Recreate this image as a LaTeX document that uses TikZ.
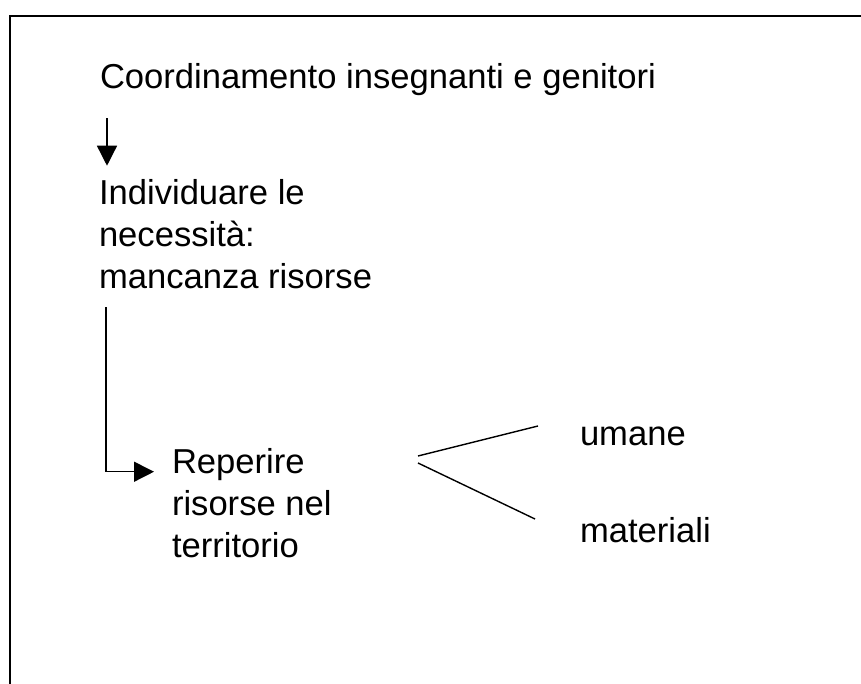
\documentclass[tikz,border=0pt]{standalone}
\usepackage{fontspec}
\setmainfont{Liberation Sans}
\usetikzlibrary{arrows.meta}
\begin{document}
\begin{tikzpicture}[x=1pt,y=-1pt,
  txt/.style={inner sep=0pt, outer sep=0pt, anchor=base west, align=left,
    font=\fontsize{34.6pt}{41.6pt}\selectfont},
  conn/.style={line width=1.4pt},
  arr/.style={conn, -{Triangle[length=20pt,width=20pt]}},
  frame/.style={line width=2pt}]
\useasboundingbox (0,0) rectangle (861,684);
\draw[frame] (10,700) -- (10,16) -- (880,16);
\node[txt] (coord) at (100,89) {Coordinamento insegnanti e genitori};
\node[txt] (indiv) at (99,288) {Individuare le\\necessità:\\mancanza risorse};
\node[txt] (reper) at (172,557) {Reperire\\risorse nel\\territorio};
\node[txt] (umane) at (580,445) {umane};
\node[txt] (mater) at (580,542) {materiali};
\coordinate (xa) at (107,0);
\coordinate (fork1) at (418,456);
\coordinate (fork2) at (418,463);
\draw[arr, shorten <=22pt, shorten >=14pt] (coord.south -| xa) -- (indiv.north -| xa);
\draw[arr] ([xshift=7pt,yshift=-19pt]indiv.south west) |- ([xshift=-18pt,yshift=-23pt]reper.north west);
\draw[conn] (fork1) -- ([xshift=-42pt,yshift=19pt]umane.base west);
\draw[conn] (fork2) -- ([xshift=-45pt,yshift=23pt]mater.base west);
\end{tikzpicture}
\end{document}
